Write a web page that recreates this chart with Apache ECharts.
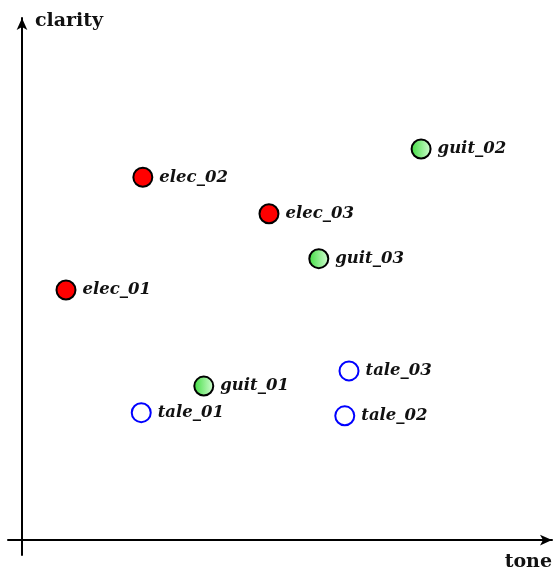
<!DOCTYPE html>
<html>
<head>
<meta charset="utf-8">
<script src="https://cdn.jsdelivr.net/npm/echarts@6/dist/echarts.min.js"></script>
<style>
  html, body { margin: 0; padding: 0; background: #fff; }
  #main { width: 555px; height: 571px; }
</style>
</head>
<body>
<div id="main"></div>
<script>
// 数据
var elec_names = ['elec_01', 'elec_02', 'elec_03'];
var elec_tone = [0.83, 2.28, 4.66];
var elec_clarity = [4.79, 6.95, 6.25];

var guit_names = ['guit_01', 'guit_02', 'guit_03'];
var guit_tone = [3.43, 7.53, 5.60];
var guit_clarity = [2.95, 7.49, 5.39];

var tale_names = ['tale_01', 'tale_02', 'tale_03'];
var tale_tone = [2.25, 6.09, 6.17];
var tale_clarity = [2.44, 2.38, 3.24];

var label_font = 'DejaVu Serif';

function make_points(names, xs, ys) {
  var out = [];
  names.forEach(function(n, i) {
    out.push({ name: n, value: [xs[i], ys[i]] });
  });
  return out;
}

function make_series(name, data, itemStyle) {
  return {
    name: name,
    type: 'scatter',
    symbol: 'circle',
    symbolSize: 19,
    data: data,
    itemStyle: itemStyle,
    label: {
      show: true,
      position: 'right',
      distance: 6,
      formatter: '{b}',
      color: '#111',
      fontFamily: label_font,
      fontStyle: 'italic',
      fontWeight: 'bold',
      fontSize: 16.5,
      padding: [3, 0, 0, 0]
    },
    emphasis: { disabled: true }
  };
}

var ec = echarts.init(document.getElementById('main'));

// 坐标轴线样式
var axis_line = {
  show: true,
  onZero: true,
  symbol: ['none', 'arrow'],
  symbolSize: [8, 12],
  lineStyle: { color: '#000', width: 2 }
};

ec.setOption({
  animation: false,
  grid: {
    left: 8,
    right: 3,
    top: 18,
    bottom: 13
  },
  xAxis: {
    type: 'value',
    min: -0.264,
    max: 10,
    name: 'tone',
    nameLocation: 'end',
    nameGap: 0,
    nameTextStyle: {
      fontFamily: label_font,
      fontWeight: 'bold',
      fontSize: 19,
      color: '#111',
      align: 'right',
      verticalAlign: 'top',
      padding: [12, 0, 0, 0]
    },
    axisLine: axis_line,
    axisTick: { show: false },
    axisLabel: { show: false },
    splitLine: { show: false }
  },
  yAxis: {
    type: 'value',
    min: -0.286,
    max: 10,
    name: 'clarity',
    nameLocation: 'end',
    nameGap: -3,
    nameTextStyle: {
      fontFamily: label_font,
      fontWeight: 'bold',
      fontSize: 19,
      color: '#111',
      align: 'left',
      verticalAlign: 'middle',
      padding: [0, 0, 0, 13]
    },
    axisLine: axis_line,
    axisTick: { show: false },
    axisLabel: { show: false },
    splitLine: { show: false }
  },
  series: [
    make_series('elec', make_points(elec_names, elec_tone, elec_clarity), {
      color: '#ff0000',
      borderColor: '#000',
      borderWidth: 2,
      opacity: 1
    }),
    make_series('guit', make_points(guit_names, guit_tone, guit_clarity), {
      color: new echarts.graphic.LinearGradient(0, 0, 1, 0, [
        { offset: 0, color: '#3ddc3d' },
        { offset: 1, color: '#d8ffd8' }
      ]),
      borderColor: '#000',
      borderWidth: 2,
      opacity: 1
    }),
    make_series('tale', make_points(tale_names, tale_tone, tale_clarity), {
      color: '#ffffff',
      borderColor: '#0000ff',
      borderWidth: 2,
      opacity: 1
    })
  ]
});
</script>
</body>
</html>
